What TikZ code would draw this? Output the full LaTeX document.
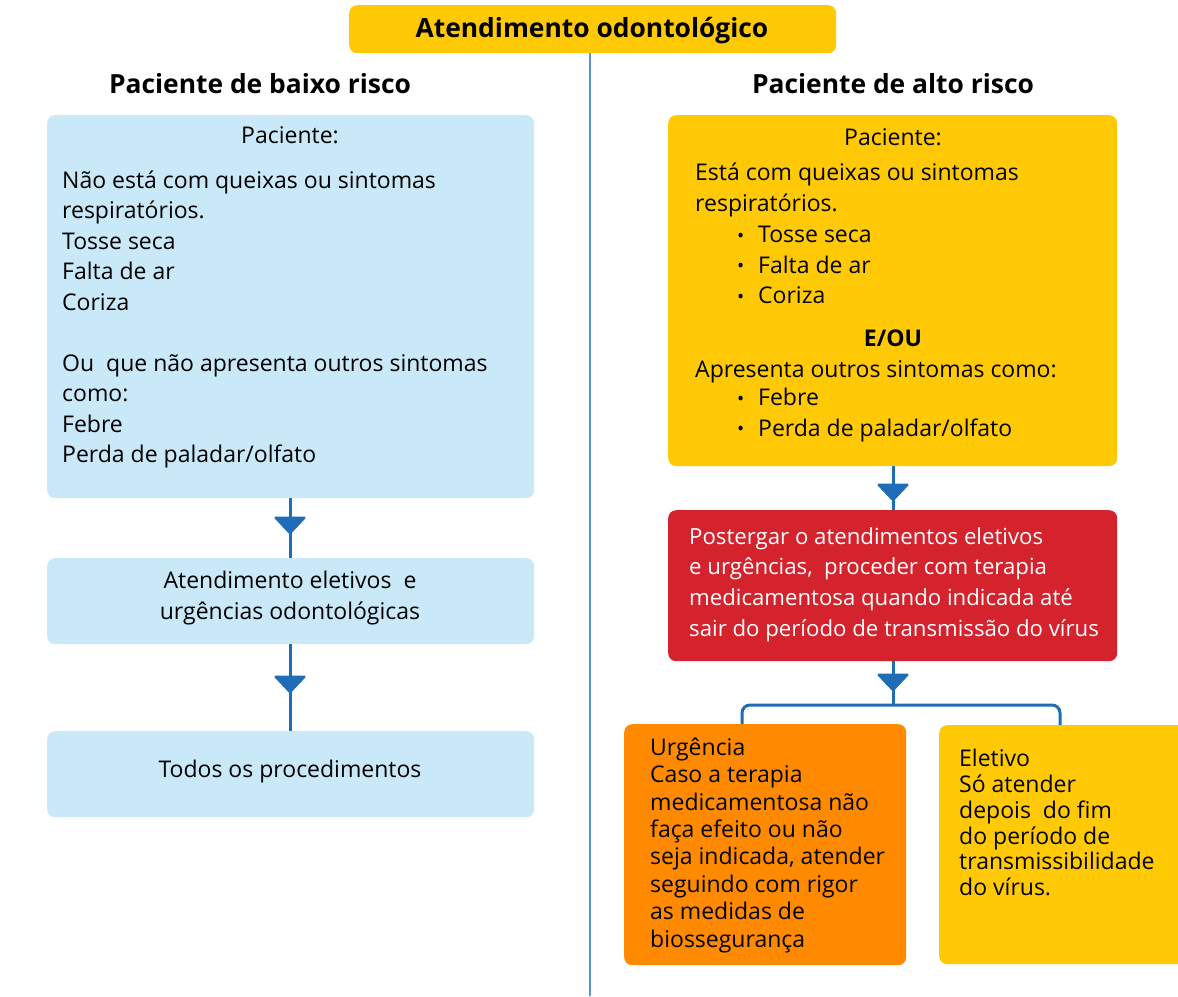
\documentclass[tikz,border=0pt]{standalone}
\usepackage{fontspec}
\setmainfont{Open Sans}
\definecolor{lblue}{HTML}{C9E9F9}
\definecolor{ylw}{HTML}{FFCA05}
\definecolor{rd}{HTML}{D5232E}
\definecolor{org}{HTML}{FF8A00}
\definecolor{arr}{HTML}{1F6DB6}
\definecolor{divc}{HTML}{5A94CF}
\newcommand{\bl}{\makebox[21pt][l]{\raisebox{0.5pt}{\fontsize{19}{19}\selectfont•}}}
\begin{document}
\begin{tikzpicture}[x=1pt,y=-1pt,
  box/.style={rounded corners=8pt, inner sep=0pt, anchor=north west},
  body/.style={inner sep=0pt, anchor=north west, align=left, font=\fontsize{23}{30.5}\selectfont},
  one/.style={inner sep=0pt, anchor=base, font=\fontsize{23}{30.5}\selectfont},
  head/.style={inner sep=0pt, anchor=base, font=\fontsize{26.4}{30}\selectfont\bfseries},
  conn/.style={draw=arr, line width=3pt},
  tri/.style={fill=arr, draw=arr, line width=1pt, line join=round}
]
\useasboundingbox (0,0) rectangle (1178,996);
\clip (0,0) rectangle (1178,996);

% divider
\coordinate (dtop) at (590,53);
\coordinate (dbot) at (590,996);
\draw[divc, line width=2pt] (dtop) -- (dbot);

% title
\node[box, fill=ylw, minimum width=487pt, minimum height=48pt] (title) at (349,5) {};
\node[head] (titletxt) at (592,37.7) {Atendimento odontológico};

\node[head] (hl) at (260,93.2) {Paciente de baixo risco};
\node[head] (hr) at (893,93.2) {Paciente de alto risco};

% left column
\node[box, fill=lblue, minimum width=487pt, minimum height=383pt] (l1) at (47,115) {};
\node[one] (l1h) at (290,143.3) {Paciente:};
\node[body] (l1t) at (62,166.5) {\strut Não está com queixas ou sintomas\\respiratórios.\\Tosse seca\\Falta de ar\\Coriza\\\strut\\Ou\ \ que não apresenta outros sintomas\\como:\\Febre\\Perda de paladar/olfato};

\node[box, fill=lblue, minimum width=487pt, minimum height=86pt] (l2) at (47,558) {};
\node[body, anchor=north, align=center] (l2t) at (290,567) {\strut Atendimento eletivos\ \ e\\urgências odontológicas};

\node[box, fill=lblue, minimum width=487pt, minimum height=86pt] (l3) at (47,731) {};
\node[one] (l3t) at (290,777.3) {Todos os procedimentos};

% right column
\node[box, fill=ylw, minimum width=449pt, minimum height=351pt] (r1) at (668,115) {};
\node[one] (r1h) at (893,145.3) {Paciente:};
\node[body] (r1a) at (695,159.2) {\strut Está com queixas ou sintomas\\respiratórios.};
\node[body] (r1b) at (737,221.2) {\strut\bl Tosse seca\\\bl Falta de ar\\\bl Coriza};
\node[one, font=\fontsize{23}{30.5}\selectfont\bfseries] (r1c) at (893,346.3) {E/OU};
\node[one, anchor=base west] (r1d) at (695,377.3) {Apresenta outros sintomas como:};
\node[body] (r1e) at (737,384.2) {\strut\bl Febre\\\bl Perda de paladar/olfato};

\node[box, fill=rd, minimum width=449pt, minimum height=151pt] (r2) at (668,510) {};
\node[body, text=white, font=\fontsize{22.2}{30.7}\selectfont] (r2t) at (689,522.5) {\strut Postergar o atendimentos eletivos\\e urgências,\ \ proceder com terapia\\medicamentosa quando indicada até\\sair do período de transmissão do vírus};

\node[box, fill=org, minimum width=282pt, minimum height=241pt] (r3) at (624,724) {};
\node[body, font=\fontsize{23}{27.4}\selectfont] (r3t) at (650,736) {\strut Urgência\\Caso a terapia\\medicamentosa não\\faça efeito ou não\\seja indicada, atender\\seguindo com rigor\\as medidas de\\biossegurança};

\node[box, fill=ylw, minimum width=260pt, minimum height=239pt] (r4) at (939,725) {};
\node[body, font=\fontsize{23}{25.8}\selectfont] (r4t) at (959,748.5) {\strut Eletivo\\Só atender\\depois\ \ do fim\\do período de\\transmissibilidade\\do vírus.};

% connectors
\draw[conn] (l1.south -| 290,0) -- (l2.north -| 290,0);
\draw[tri, rounded corners=1.5pt] (274,517) -- (306,517) -- (290,534) -- cycle;
\draw[conn] (l2.south -| 290,0) -- (l3.north -| 290,0);
\draw[tri, rounded corners=1.5pt] (274,676) -- (306,676) -- (290,693) -- cycle;

\draw[conn] (r1.south -| 893,0) -- (r2.north -| 893,0);
\draw[tri, rounded corners=1.5pt] (877,484) -- (909,484) -- (893,501) -- cycle;
\coordinate (br) at (893,705);
\draw[conn] (r2.south -| 893,0) -- (br);
\draw[tri, rounded corners=1.5pt] (877,674) -- (909,674) -- (893,691) -- cycle;
\draw[conn, rounded corners=8pt] (r3.north -| 742,0) -- (742,705) -- (1060,705) -- (r4.north -| 1060,0);
\end{tikzpicture}
\end{document}
